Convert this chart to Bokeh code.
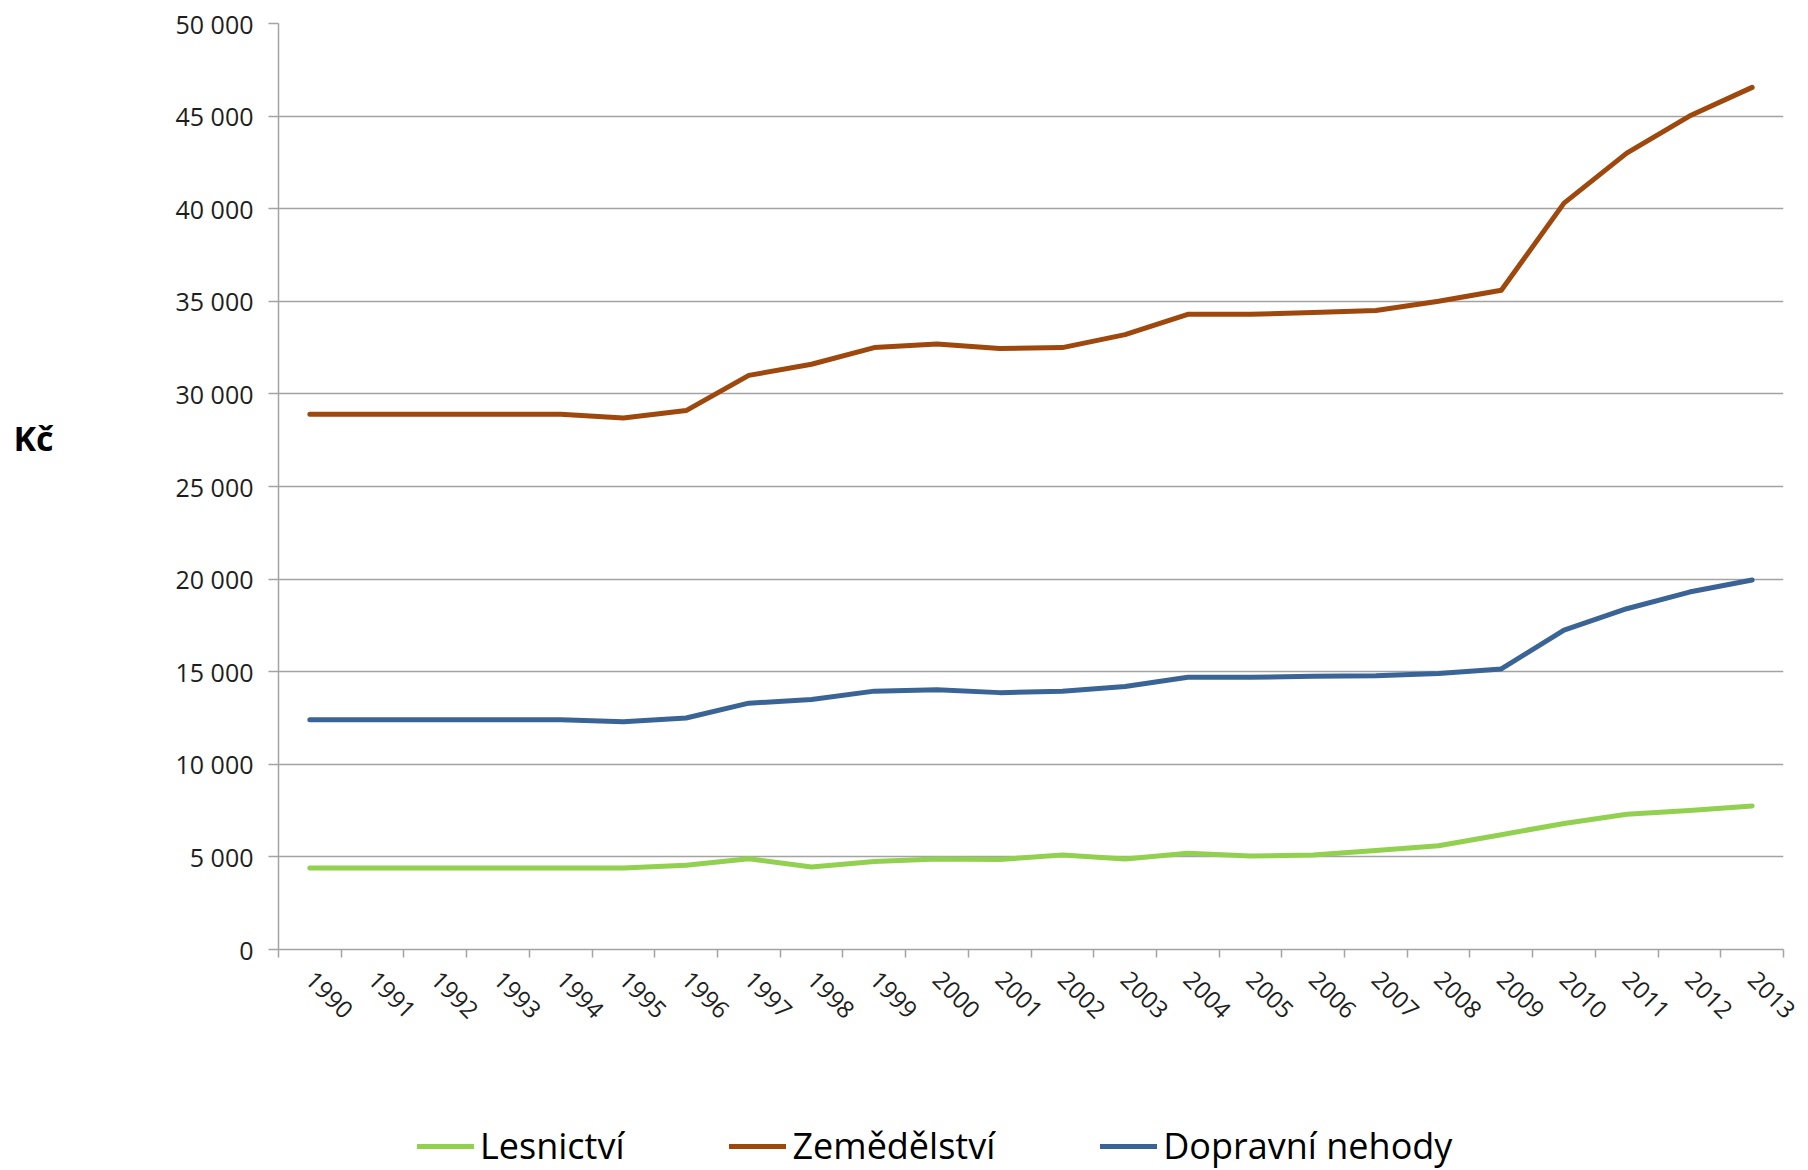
import math
from bokeh.plotting import figure
from bokeh.layouts import column
from bokeh.models import FixedTicker, CustomJSTickFormatter, Legend, LegendItem, Range1d
from bokeh.embed import file_html
from bokeh.resources import INLINE

# ---- data ----
years = list(range(1990, 2014))
lesnictvi = [4400, 4400, 4400, 4400, 4400, 4400, 4550, 4900, 4450, 4750, 4890, 4860,
             5100, 4890, 5200, 5050, 5100, 5350, 5600, 6200, 6800, 7300, 7500, 7750]
zemedelstvi = [28900, 28900, 28900, 28900, 28900, 28700, 29100, 31000, 31600, 32500, 32700, 32450,
               32500, 33200, 34300, 34300, 34400, 34500, 35000, 35600, 40300, 43000, 45000, 46550]
dopravni = [12400, 12400, 12400, 12400, 12400, 12300, 12500, 13300, 13500, 13950, 14030, 13870,
            13940, 14200, 14700, 14700, 14750, 14780, 14900, 15150, 17250, 18400, 19300, 19950]
y_ticks = list(range(0, 50001, 5000))
series_names = ["Lesnictví", "Zemědělství", "Dopravní nehody"]
series_values = [lesnictvi, zemedelstvi, dopravni]
colors = ["#92D050", "#9E480E", "#3B6496"]
y_label = "Kč"

FONT = "Open Sans"
TXT = "#1e1e1e"
GRAY = "#A3A3A3"
LW = 5

p = figure(width=1808, height=1039,
           x_range=Range1d(years[0] - 0.5, years[-1] + 0.5),
           y_range=Range1d(y_ticks[0], y_ticks[-1]),
           output_backend="svg", toolbar_location=None,
           min_border_left=278, min_border_right=25,
           min_border_top=23, min_border_bottom=90)
p.outline_line_color = None
p.background_fill_color = "white"
p.border_fill_color = "white"

for vals, c in zip(series_values, colors):
    p.line(years, vals, line_width=LW, line_color=c, line_join="round", line_cap="round")

# y axis
yt = FixedTicker(ticks=y_ticks)
ya = p.yaxis[0]
ya.ticker = yt
ya.formatter = CustomJSTickFormatter(
    code="return Math.round(tick).toString().replace(/\\B(?=(\\d{3})+(?!\\d))/g, ' ');")
ya.major_label_text_font = FONT
ya.major_label_text_font_size = "25px"
ya.major_label_text_color = TXT
ya.major_tick_out = 10
ya.major_tick_in = 0
ya.minor_tick_out = 0
ya.minor_tick_in = 0
ya.major_label_standoff = 15
ya.axis_line_color = GRAY
ya.axis_line_width = 1.5
ya.major_tick_line_color = GRAY
ya.major_tick_line_width = 1.5
ya.axis_label = y_label + "\n\n"
ya.axis_label_orientation = "horizontal"
ya.axis_label_standoff = 119
ya.axis_label_text_font = FONT
ya.axis_label_text_font_size = "34px"
ya.axis_label_text_font_style = "bold"
ya.axis_label_text_color = "black"
ya.axis_label_text_line_height = 1.05

# x axis
bounds = [y - 0.5 for y in years] + [years[-1] + 0.5]
xt = FixedTicker(ticks=years, minor_ticks=bounds)
xa = p.xaxis[0]
xa.ticker = xt
xa.major_label_text_font = FONT
xa.major_label_text_font_size = "24px"
xa.major_label_text_color = TXT
xa.major_label_orientation = -math.pi / 4
xa.major_tick_out = 0
xa.major_tick_in = 0
xa.minor_tick_out = 8
xa.minor_tick_in = 0
xa.minor_tick_line_color = GRAY
xa.minor_tick_line_width = 1.5
xa.axis_line_color = GRAY
xa.axis_line_width = 1.5
xa.major_label_standoff = 18

p.xgrid.visible = False
p.ygrid.ticker = yt
p.ygrid.grid_line_color = GRAY
p.ygrid.grid_line_width = 1.5

# legend figure below the chart (proxy lines lie outside its visible range)
lf = figure(width=1808, height=131, x_range=Range1d(0, 1), y_range=Range1d(0, 1),
            output_backend="svg", toolbar_location=None,
            min_border_left=0, min_border_right=0, min_border_top=0, min_border_bottom=0)
lf.axis.visible = False
lf.grid.visible = False
lf.outline_line_color = None
lf.border_fill_color = "white"
items = []
for n, c in zip(series_names, colors):
    r = lf.line([-2, -1], [-2, -2], line_width=LW, line_color=c, line_cap="round")
    items.append(LegendItem(label=n, renderers=[r]))
legend = Legend(items=items, orientation="horizontal", location=(139, 0),
                label_text_font=FONT, label_text_font_size="36px", label_text_color="black",
                glyph_width=57, glyph_height=30, label_height=30, label_standoff=6,
                spacing=105, padding=0, margin=0,
                border_line_color=None, background_fill_alpha=0)
lf.add_layout(legend)

open("out.html", "w").write(file_html(column(p, lf, spacing=0), INLINE))
